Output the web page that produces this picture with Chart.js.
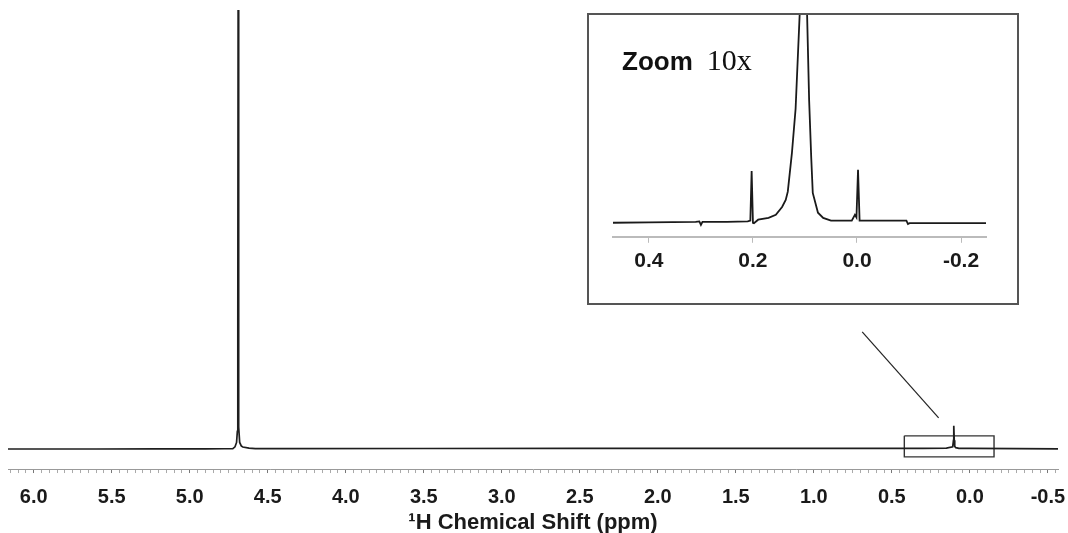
<!DOCTYPE html>
<html>
  <head>
    <title>1H NMR Spectrum</title>
    <script src="https://cdn.jsdelivr.net/npm/chart.js"></script>
    <style>
      body {
        margin: 0;
        background-color: #ffffff;
        font-family: "Liberation Sans", Arial, sans-serif;
      }
      #wrap {
        position: relative;
        width: 1068px;
        height: 533px;
      }
      #mainChart {
        position: absolute;
        left: 0;
        top: 0;
      }
      #inset {
        position: absolute;
        left: 587px;
        top: 13px;
        width: 432px;
        height: 292px;
        box-sizing: border-box;
        border: 2px solid #555;
        background-color: #ffffff;
      }
    </style>
  </head>
  <body>
    <div id="wrap">
      <canvas id="mainChart" width="1068" height="533"></canvas>
      <div id="inset">
        <canvas id="insetChart" width="428" height="288"></canvas>
      </div>
    </div>

    <script>
      // full spectrum (ppm, intensity), water peak scaled to 100
      const mainPpm = [
        6.165, 5.6, 5.2, 4.9, 4.78, 4.724, 4.71, 4.7, 4.695, 4.692, 4.69,
        4.688, 4.685, 4.68, 4.67, 4.66, 4.62, 4.58, 4.4, 3.5, 2.5, 1.5, 0.8,
        0.3, 0.15, 0.11, 0.105, 0.103, 0.1, 0.097, 0.09, 0.07, 0.0, -0.3,
        -0.565,
      ];
      const mainInt = [
        0.0, 0.0, 0.02, 0.04, 0.06, 0.1, 0.5, 1.5, 4, 30, 100, 30, 5, 1.5,
        0.7, 0.45, 0.2, 0.08, 0.1, 0.12, 0.15, 0.15, 0.15, 0.15, 0.2, 0.5,
        2.0, 5.3, 2.0, 0.6, 0.3, 0.15, 0.15, 0.1, 0.05,
      ];

      // 10x zoom of the 0.47 .. -0.25 ppm region
      const insetPpm = [
        0.469, 0.4, 0.31, 0.303, 0.3, 0.297, 0.25, 0.21, 0.205, 0.2025,
        0.2, 0.198, 0.19, 0.17, 0.156, 0.144, 0.137, 0.133, 0.125, 0.118,
        0.11, 0.103, 0.096, 0.092, 0.088, 0.085, 0.075, 0.065, 0.05, 0.01,
        0.004, 0.001, -0.002, -0.005, -0.05, -0.095, -0.098, -0.101, -0.248,
      ];
      const insetInt = [
        0.0, 0.01, 0.02, 0.03, -0.05, 0.02, 0.02, 0.03, 0.05, 1.18, 0.0,
        -0.01, 0.07, 0.11, 0.18, 0.36, 0.52, 0.71, 1.6, 2.6, 4.8, 5.3, 4.8,
        2.8, 1.5, 0.68, 0.23, 0.11, 0.05, 0.05, 0.18, 0.12, 1.21, 0.05,
        0.05, 0.05, -0.03, -0.01, -0.01,
      ];

      // marked region on the full spectrum and the leader line to the inset
      const boxPpm = [0.42, -0.155];
      const boxInt = [-1.8, 3.0];
      const leaderPpm = [0.69, 0.2];
      const leaderInt = [26.7, 7.1];

      const mainRange = { min: -0.565, max: 6.165, yMin: -4.56, yMax: 100 };
      const insetRange = { min: -0.248, max: 0.469, yMin: -0.32, yMax: 4.74 };
      const mainTickStep = 0.05;
      const mainLabelStep = 0.5;
      const insetTicks = [0.4, 0.2, 0.0, -0.2];

      const toPoints = (xs, ys) => xs.map((x, i) => ({ x: x, y: ys[i] }));
      const isMultiple = (v, step) =>
        Math.abs(v / step - Math.round(v / step)) < 1e-6;

      const mainTicks = [];
      for (
        let k = Math.ceil(mainRange.min / mainTickStep);
        k <= Math.floor(mainRange.max / mainTickStep);
        k++
      ) {
        mainTicks.push(Math.round(k * mainTickStep * 100) / 100);
      }

      const boxPoints = toPoints(
        [boxPpm[0], boxPpm[1], boxPpm[1], boxPpm[0], boxPpm[0]],
        [boxInt[1], boxInt[1], boxInt[0], boxInt[0], boxInt[1]]
      );

      Chart.defaults.font.family = '"Liberation Sans", Arial, sans-serif';
      Chart.defaults.color = "#1a1a1a";

      new Chart(document.getElementById("mainChart"), {
        type: "line",
        data: {
          datasets: [
            {
              data: toPoints(mainPpm, mainInt),
              borderColor: "#1e1e1e",
              borderWidth: 1.7,
              pointRadius: 0,
              tension: 0,
            },
            {
              data: boxPoints,
              borderColor: "#333",
              borderWidth: 1.4,
              pointRadius: 0,
            },
            {
              data: toPoints(leaderPpm, leaderInt),
              borderColor: "#222",
              borderWidth: 1.2,
              pointRadius: 0,
            },
          ],
        },
        options: {
          responsive: false,
          animation: false,
          layout: { padding: { left: 8, right: 10, top: 10, bottom: 0 } },
          plugins: { legend: { display: false }, tooltip: { enabled: false } },
          scales: {
            x: {
              type: "linear",
              reverse: true,
              min: mainRange.min,
              max: mainRange.max,
              afterBuildTicks: (scale) => {
                scale.ticks = mainTicks.map((v) => ({ value: v }));
              },
              grid: {
                drawOnChartArea: false,
                tickLength: 4,
                tickColor: (ctx) =>
                  ctx.tick && isMultiple(ctx.tick.value, mainLabelStep)
                    ? "#777"
                    : "#aaa",
              },
              border: { color: "#999", width: 1 },
              ticks: {
                autoSkip: false,
                maxRotation: 0,
                padding: 14,
                font: { size: 20, weight: "bold", lineHeight: 1 },
                callback: (v) =>
                  isMultiple(v, mainLabelStep) ? (Math.round(v * 10) / 10).toFixed(1) : "",
              },
              title: {
                display: true,
                text: "\u00b9H Chemical Shift (ppm)",
                font: { size: 22, weight: "bold", lineHeight: 0.18 },
                padding: { top: 0, bottom: 8 },
              },
            },
            y: {
              display: false,
              min: mainRange.yMin,
              max: mainRange.yMax,
            },
          },
        },
      });

      // "Zoom 10x" caption in the inset corner
      const insetCaption = {
        id: "insetCaption",
        afterDraw(chart) {
          const ctx = chart.ctx;
          const x = chart.chartArea.left + 9;
          ctx.save();
          ctx.fillStyle = "#111";
          ctx.textBaseline = "alphabetic";
          ctx.font = 'bold 26px "Liberation Sans", Arial, sans-serif';
          ctx.fillText("Zoom", x, 55);
          const w = ctx.measureText("Zoom").width;
          ctx.font = '30px "Liberation Serif", "Times New Roman", serif';
          ctx.fillText("10x", x + w + 14, 55);
          ctx.restore();
        },
      };

      new Chart(document.getElementById("insetChart"), {
        type: "line",
        data: {
          datasets: [
            {
              data: toPoints(insetPpm, insetInt),
              borderColor: "#1a1a1a",
              borderWidth: 1.8,
              pointRadius: 0,
              tension: 0,
            },
          ],
        },
        options: {
          responsive: false,
          animation: false,
          layout: { padding: { left: 24, right: 31, top: 0, bottom: 23 } },
          plugins: { legend: { display: false }, tooltip: { enabled: false } },
          scales: {
            x: {
              type: "linear",
              reverse: true,
              min: insetRange.min,
              max: insetRange.max,
              afterBuildTicks: (scale) => {
                scale.ticks = insetTicks.map((v) => ({ value: v }));
              },
              grid: { drawOnChartArea: false, tickLength: 6, tickColor: "#bbb" },
              border: { color: "#bbb", width: 2 },
              ticks: {
                autoSkip: false,
                maxRotation: 0,
                padding: 6,
                font: { size: 21, weight: "bold" },
                callback: (v) => (Math.round(v * 10) / 10).toFixed(1),
              },
            },
            y: {
              display: false,
              min: insetRange.yMin,
              max: insetRange.yMax,
            },
          },
        },
        plugins: [insetCaption],
      });
    </script>
  </body>
</html>
